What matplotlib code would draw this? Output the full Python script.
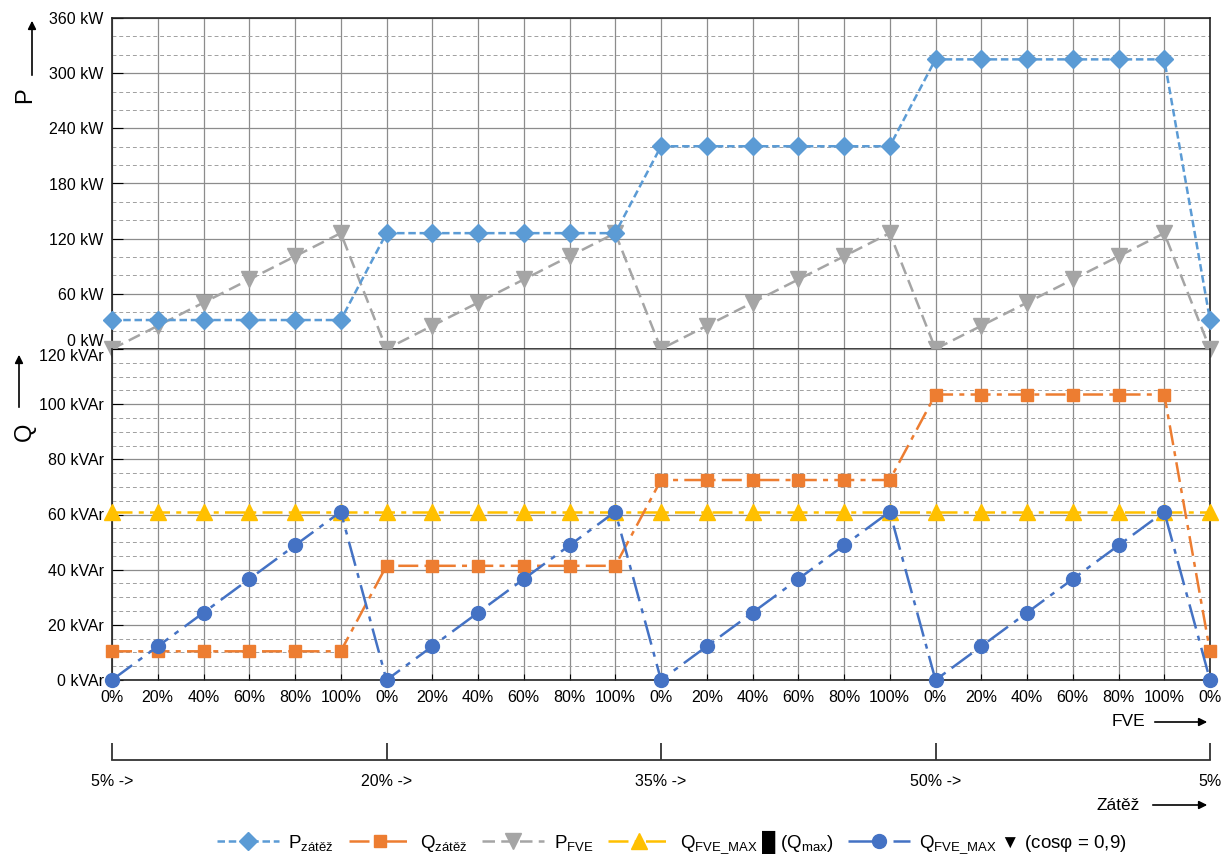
import matplotlib
matplotlib.use('Agg')
import matplotlib.pyplot as plt
from matplotlib.patches import FancyArrowPatch
from matplotlib.ticker import MultipleLocator

plt.rcParams['font.family'] = ['Liberation Sans', 'DejaVu Sans']
plt.rcParams['mathtext.fontset'] = 'custom'
plt.rcParams['mathtext.rm'] = 'Liberation Sans'
plt.rcParams['mathtext.it'] = 'Liberation Sans'

# data
fve_labels = ['0%', '20%', '40%', '60%', '80%', '100%'] * 4 + ['0%']
zatez_ticks = [0, 6, 12, 18, 24]
zatez_labels = ['5% ->', '20% ->', '35% ->', '50% ->', '5%']
p_ticks = [0, 60, 120, 180, 240, 300, 360]
q_ticks = [0, 20, 40, 60, 80, 100, 120]

P_zatez = [31.5, 31.5, 31.5, 31.5, 31.5, 31.5,
           126, 126, 126, 126, 126, 126,
           220.5, 220.5, 220.5, 220.5, 220.5, 220.5,
           315, 315, 315, 315, 315, 315, 31.5]
Q_zatez = [10.4, 10.4, 10.4, 10.4, 10.4, 10.4,
           41.4, 41.4, 41.4, 41.4, 41.4, 41.4,
           72.5, 72.5, 72.5, 72.5, 72.5, 72.5,
           103.5, 103.5, 103.5, 103.5, 103.5, 103.5, 10.4]
P_fve = [0, 25.2, 50.4, 75.6, 100.8, 126,
         0, 25.2, 50.4, 75.6, 100.8, 126,
         0, 25.2, 50.4, 75.6, 100.8, 126,
         0, 25.2, 50.4, 75.6, 100.8, 126, 0]
Q_fve_max = [61] * 25
Q_fve_cos = [0, 12.2, 24.4, 36.6, 48.8, 61,
             0, 12.2, 24.4, 36.6, 48.8, 61,
             0, 12.2, 24.4, 36.6, 48.8, 61,
             0, 12.2, 24.4, 36.6, 48.8, 61, 0]
x = list(range(len(fve_labels)))

fig = plt.figure(figsize=(12.22, 8.56), dpi=100)
L, R = 112 / 1222, 1210 / 1222
def fy(px):
    return 1 - px / 856

axP = fig.add_axes([L, fy(349), R - L, fy(18) - fy(349)])
axQ = fig.add_axes([L, fy(680), R - L, fy(349) - fy(680)])

for ax in (axP, axQ):
    ax.set_xlim(0, 24)
    ax.set_xticks(x)
    ax.grid(True, which='major', axis='both', color='#8c8c8c', lw=0.9)
    ax.grid(True, which='minor', axis='y', color='#a0a0a0', lw=0.7, ls=(0, (4, 3)))
    ax.set_axisbelow(True)
    ax.tick_params(axis='y', which='major', direction='in', length=8, labelsize=11.5, pad=6)
    ax.tick_params(axis='y', which='minor', length=0)
    ax.tick_params(axis='x', direction='in', length=4, labelsize=11.5)
    for s in ax.spines.values():
        s.set_color('#222222')
        s.set_linewidth(1.2)

axP.set_ylim(0, 360)
axP.set_yticks(p_ticks)
axP.yaxis.set_minor_locator(MultipleLocator(20))
axP.set_yticklabels([f'{v} kW' for v in p_ticks])
axP.set_xticklabels([])
axP.tick_params(axis='x', length=0)

axQ.set_ylim(0, 120)
axQ.set_yticks(q_ticks)
axQ.yaxis.set_minor_locator(MultipleLocator(5))
axQ.set_yticklabels([f'{v} kVAr' for v in q_ticks])
axQ.set_xticklabels(fve_labels)
axQ.tick_params(axis='x', pad=7)
axQ.spines['top'].set_visible(False)

# nudge the labels where the two panels meet
axP.get_yticklabels()[0].set_va('bottom')
axQ.get_yticklabels()[-1].set_va('top')

lw = 1.8
h1, = axP.plot(x, P_zatez, color='#5B9BD5', lw=lw, ls=(0, (3, 1.5)), marker='D',
               ms=9, clip_on=False, zorder=5)
h3, = axP.plot(x, P_fve, color='#A5A5A5', lw=lw, ls=(0, (5, 2.5)), marker='v',
               ms=11, clip_on=False, zorder=4)
h4, = axQ.plot(x, Q_fve_max, color='#FFC000', lw=lw, ls=(0, (8, 2.5, 2, 2.5)), marker='^',
               ms=11, clip_on=False, zorder=3)
h2, = axQ.plot(x, Q_zatez, color='#ED7D31', lw=lw, ls=(0, (8, 2.5, 2, 2.5)), marker='s',
               ms=9, clip_on=False, zorder=4)
h5, = axQ.plot(x, Q_fve_cos, color='#4472C4', lw=lw, ls=(0, (10, 3, 2, 3)), marker='o',
               ms=10, clip_on=False, zorder=5)

# axis name labels with arrows
arr = dict(arrowstyle='-|>', color='black', lw=1.2, mutation_scale=12)
fig.text(25 / 1222, fy(95), 'P', rotation=90, fontsize=17, ha='center', va='center')
fig.text(25 / 1222, fy(432), 'Q', rotation=90, fontsize=17, ha='center', va='center')
fig.patches.append(FancyArrowPatch((32 / 1222, fy(78)), (32 / 1222, fy(18)),
                                   transform=fig.transFigure, **arr))
fig.patches.append(FancyArrowPatch((19 / 1222, fy(410)), (19 / 1222, fy(352)),
                                   transform=fig.transFigure, **arr))

# second (load) axis below
axZ = fig.add_axes([L, fy(760), R - L, 0.001])
axZ.set_xlim(0, 24)
axZ.set_yticks([])
for side in ('top', 'left', 'right'):
    axZ.spines[side].set_visible(False)
axZ.spines['bottom'].set_color('#333333')
axZ.spines['bottom'].set_linewidth(1.3)
axZ.patch.set_alpha(0)
axZ.set_xticks(zatez_ticks)
axZ.set_xticklabels(zatez_labels)
axZ.tick_params(axis='x', direction='in', length=12, width=1.3, color='#333333',
                labelsize=11.5, pad=10)

fig.text(1145 / 1222, fy(722), 'FVE', fontsize=12.5, ha='right', va='center')
fig.patches.append(FancyArrowPatch((1152 / 1222, fy(722)), (1210 / 1222, fy(722)),
                                   transform=fig.transFigure, **arr))
fig.text(1140 / 1222, fy(805), 'Zátěž', fontsize=12.5, ha='right', va='center')
fig.patches.append(FancyArrowPatch((1150 / 1222, fy(805)), (1210 / 1222, fy(805)),
                                   transform=fig.transFigure, **arr))

labels = ['P$_{\\mathregular{zátěž}}$', 'Q$_{\\mathregular{zátěž}}$', 'P$_{\\mathregular{FVE}}$',
          'Q$_{\\mathregular{FVE\\_MAX}}$ \u2588 (Q$_{\\mathregular{max}}$)',
          'Q$_{\\mathregular{FVE\\_MAX}}$ \u25bc (cosφ = 0,9)']
fig.legend([h1, h2, h3, h4, h5], labels, loc='center', bbox_to_anchor=(0.55, fy(842)),
           ncol=5, frameon=False, fontsize=13.5, handlelength=3.3, columnspacing=0.8,
           handletextpad=0.5)

fig.savefig('out.png', dpi=100)
